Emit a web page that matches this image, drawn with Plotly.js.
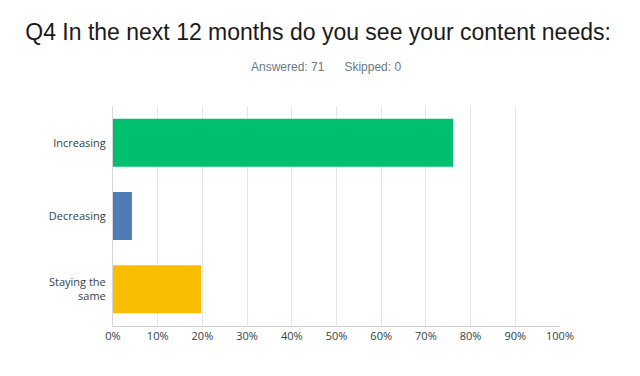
<!DOCTYPE html>
<html><head><meta charset="utf-8">
<script src="https://cdn.plot.ly/plotly-3.0.1.min.js"></script>
<style>html,body{margin:0;padding:0;background:#fff;}#chart{width:640px;height:376px;}</style>
</head><body><div id="chart"></div>
<script>
var categories = ["Increasing", "Decreasing", "Staying the<br>same"];
var percents = [76.06, 4.23, 19.72];
var barColors = ["#00bf6f", "#507cb6", "#f9be00"];
var tickVals = [0,10,20,30,40,50,60,70,80,90,100];
var tickText = ["0%","10%","20%","30%","40%","50%","60%","70%","80%","90%","100%"];
var titleText = "Q4 In the next 12 months do you see your content needs:";
var subtitleText = "Answered: 71&nbsp;&nbsp;&nbsp;&nbsp;&nbsp;&nbsp;Skipped: 0";

var trace = {
  type: "bar", orientation: "h",
  x: percents, y: categories,
  marker: {color: barColors},
  hoverinfo: "none"
};
var layout = {
  width: 640, height: 376,
  margin: {l: 113, r: 80, t: 106, b: 50},
  paper_bgcolor: "#fff", plot_bgcolor: "#fff",
  bargap: 0.345,
  showlegend: false,
  title: {text: titleText, x: 0.497, xanchor: "center", y: 0.915, yanchor: "middle",
          font: {family: "Liberation Sans, Arial, sans-serif", size: 23, color: "#1a1a1a"}},
  annotations: [{text: subtitleText, xref: "paper", yref: "paper", x: 0.5, xanchor: "center",
                 xshift: -11, y: 1, yshift: 39, yanchor: "middle", showarrow: false,
                 font: {family: "Liberation Sans, Arial, sans-serif", size: 12, color: "#6b787f"}}],
  xaxis: {range: [0, 100], tickvals: tickVals, ticktext: tickText, showgrid: true,
          gridcolor: "#e6e6e6", gridwidth: 1, zeroline: false, showline: true, linecolor: "#d0d0d0",
          linewidth: 1, ticks: "", fixedrange: true,
          tickfont: {family: "Open Sans, sans-serif", size: 11, color: "#333e48"}},
  yaxis: {autorange: "reversed", showgrid: false, zeroline: false, showline: true,
          linecolor: "#d8d8d8", linewidth: 1, ticks: "", ticklabelstandoff: 4, fixedrange: true,
          tickfont: {family: "Open Sans, sans-serif", size: 11, color: "#333e48"}}
};
Plotly.newPlot("chart", [trace], layout, {displayModeBar: false, staticPlot: true});
</script></body></html>
